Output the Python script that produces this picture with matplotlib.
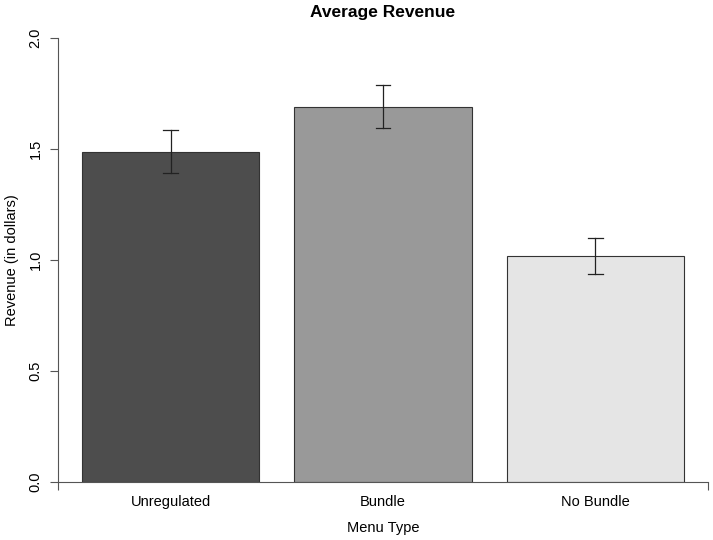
import matplotlib
matplotlib.use("Agg")
import matplotlib.pyplot as plt
import numpy as np

categories = ["Unregulated", "Bundle", "No Bundle"]
revenue = [1.486, 1.689, 1.018]
err_low = [1.390, 1.595, 0.937]
err_high = [1.586, 1.788, 1.101]
colors = ["#4D4D4D", "#999999", "#E5E5E5"]
yticks = [0.0, 0.5, 1.0, 1.5, 2.0]

plt.rcParams['font.family'] = ['Liberation Sans', 'DejaVu Sans']

W, H = 713, 540
fig = plt.figure(figsize=(W / 100, H / 100), dpi=100)
ax = fig.add_axes([58 / W, (H - 482) / H, (708 - 58) / W, (482 - 38) / H])

x = np.array([0.7, 1.9, 3.1])
ax.bar(x, revenue, width=1.0, color=colors, edgecolor="#333333", linewidth=0.8, zorder=2)
for xi, lo, hi in zip(x, err_low, err_high):
    ax.plot([xi, xi], [lo, hi], color="#222222", lw=0.9, zorder=3)
    ax.plot([xi - 0.04, xi + 0.04], [lo, lo], color="#222222", lw=0.9, zorder=3)
    ax.plot([xi - 0.04, xi + 0.04], [hi, hi], color="#222222", lw=0.9, zorder=3)

ax.set_xlim(0.2 - 24 / 177, 3.6 + 24 / 177)
ax.set_ylim(0, 2.0)

for s in ["top", "right"]:
    ax.spines[s].set_visible(False)
ax.spines["left"].set_color("#555555")
ax.spines["bottom"].set_color("#555555")
ax.spines["left"].set_linewidth(0.8)
ax.spines["bottom"].set_linewidth(0.8)

ax.set_yticks(yticks)
ax.set_yticklabels([f"{v:.1f}" for v in yticks], rotation=90, va="center", fontsize=10.5)
ax.tick_params(axis="y", length=6, width=0.8, color="#555555", pad=5)

xl = ax.get_xlim()
ax.set_xticks([xl[0], xl[1]])
ax.set_xticklabels(["", ""])
ax.tick_params(axis="x", length=6, width=0.8, color="#555555")

for xi, c in zip(x, categories):
    ax.text(xi, -0.09, c, ha="center", va="center", fontsize=10.5,
            transform=ax.transData, clip_on=False)

fig.text(383 / W, 1 - 528 / H, "Menu Type", ha="center", va="center", fontsize=10.5)
fig.text(12 / W, 1 - 260 / H, "Revenue (in dollars)", ha="center", va="center",
         rotation=90, fontsize=10.5)
fig.text(383 / W, 1 - 12 / H, "Average Revenue", ha="center", va="center",
         fontsize=12.5, fontweight="bold")

fig.savefig("out.png", dpi=100)
